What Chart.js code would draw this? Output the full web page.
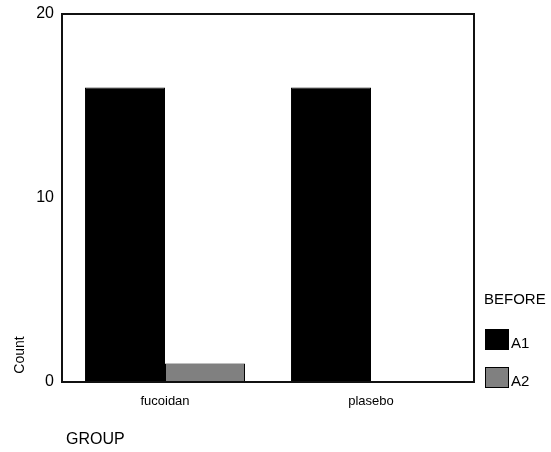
<!DOCTYPE html>
<html lang="en">
  <head>
    <meta charset="UTF-8" />
    <title>GROUP counts</title>
    <script src="https://cdn.jsdelivr.net/npm/chart.js@4/dist/chart.umd.min.js"></script>
    <style>
      html, body { margin: 0; padding: 0; background: #fff; }
      #wrap { width: 551px; height: 452px; position: relative; }
    </style>
  </head>
  <body>
    <div id="wrap"><canvas id="chart" width="551" height="452"></canvas></div>
    <script>
      const groups = ["fucoidan", "plasebo"];
      const seriesNames = ["A1", "A2"];
      const a1Counts = [16, 16];
      const a2Counts = [1, 0];
      const yTicks = [0, 10, 20];
      const legendTitle = "BEFORE";
      const xTitle = "GROUP";
      const yTitle = "Count";

      const FONT = "'Liberation Sans', Arial, sans-serif";

      // frame, axis titles and legend drawn by hand to match the original layout
      const extras = {
        id: "extras",
        afterDraw(chart) {
          const { ctx, chartArea: a } = chart;
          ctx.save();
          ctx.strokeStyle = "#111";
          ctx.lineWidth = 2;
          ctx.strokeRect(a.left, a.top, a.right - a.left, a.bottom - a.top);

          ctx.fillStyle = "#000";
          ctx.textBaseline = "middle";
          ctx.textAlign = "left";
          ctx.font = "16px " + FONT;
          ctx.fillText(xTitle, 66, 440);

          ctx.save();
          ctx.font = "14px " + FONT;
          ctx.translate(20, 355);
          ctx.rotate(-Math.PI / 2);
          ctx.textAlign = "center";
          ctx.fillText(yTitle, 0, 0);
          ctx.restore();

          ctx.font = "15px " + FONT;
          ctx.fillText(legendTitle, 484, 300);
          chart.data.datasets.forEach((ds, i) => {
            const y = 329 + i * 38;
            ctx.fillStyle = ds.backgroundColor;
            ctx.fillRect(485, y, 24, 21);
            ctx.strokeStyle = "#000";
            ctx.lineWidth = 1;
            ctx.strokeRect(485.5, y + 0.5, 23, 20);
            ctx.fillStyle = "#000";
            ctx.fillText(ds.label, 511, y + 15);
          });
          ctx.restore();
        },
      };

      new Chart(document.getElementById("chart"), {
        type: "bar",
        data: {
          labels: groups,
          datasets: [
            {
              label: seriesNames[0],
              data: a1Counts,
              backgroundColor: "#000000",
              borderColor: "#000000",
              borderWidth: 1,
            },
            {
              label: seriesNames[1],
              data: a2Counts,
              backgroundColor: "#808080",
              borderColor: "#000000",
              borderWidth: 1,
            },
          ],
        },
        options: {
          responsive: false,
          animation: false,
          layout: { padding: { left: 0, top: 14, right: 77, bottom: 0 } },
          plugins: { legend: { display: false }, tooltip: { enabled: false } },
          datasets: { bar: { categoryPercentage: 0.777, barPercentage: 1 } },
          scales: {
            x: {
              grid: { display: false, drawTicks: false },
              border: { display: false },
              ticks: { color: "#000", font: { size: 13, family: FONT }, padding: 12 },
              afterFit: (s) => {
                s.height = 70;
                s.paddingLeft = 0;
                s.paddingRight = 0;
              },
            },
            y: {
              min: 0,
              max: 20,
              afterBuildTicks: (s) => { s.ticks = yTicks.map((v) => ({ value: v })); },
              grid: { display: false, drawTicks: false },
              border: { display: false },
              ticks: { color: "#000", font: { size: 16, family: FONT }, padding: 8 },
              afterFit: (s) => {
                s.width = 62;
                s.paddingTop = 0;
                s.paddingBottom = 0;
              },
            },
          },
        },
        plugins: [extras],
      });
    </script>
  </body>
</html>
